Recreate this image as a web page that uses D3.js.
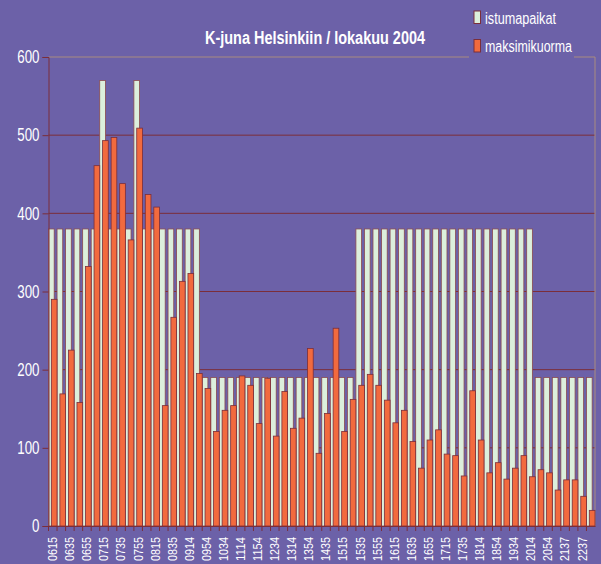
<!DOCTYPE html>
<html>
<head>
<meta charset="utf-8">
<script src="https://cdn.jsdelivr.net/npm/d3@7"></script>
<style>
  body { margin: 0; background: #6c61a8; }
  text { font-family: "Liberation Sans", Arial, sans-serif; fill: #fff; }
</style>
</head>
<body>
<script>
// departure times (every other one is shown on the axis)
const departures = [
  "0615","0625","0635","0645","0655","0705","0715","0725","0735","0745",
  "0755","0805","0815","0825","0835","0854","0914","0934","0954","1014",
  "1034","1054","1114","1134","1154","1214","1234","1254","1314","1334",
  "1354","1414","1435","1454","1515","1525","1535","1545","1555","1605",
  "1615","1625","1635","1645","1655","1705","1715","1725","1735","1754",
  "1814","1834","1854","1914","1934","1954","2014","2034","2054","2114",
  "2137","2207","2237","2307"
];

// istumapaikat (seats)
const seats = [
  380,380,380,380,380,380,570,380,380,380,
  570,380,380,380,380,380,380,380,190,190,
  190,190,190,190,190,190,190,190,190,190,
  190,190,190,190,190,190,380,380,380,380,
  380,380,380,380,380,380,380,380,380,380,
  380,380,380,380,380,380,380,190,190,190,
  190,190,190,190
];

// maksimikuorma (max load)
const maxLoad = [
  290,169,225,158,332,461,493,497,438,366,
  509,424,408,154,267,313,323,195,176,121,
  148,154,192,180,131,189,115,172,125,138,
  227,93,144,253,121,162,180,194,180,161,
  132,148,108,74,110,123,92,90,64,173,
  110,68,81,60,74,90,63,72,68,46,
  59,59,38,20
];

const yTicks = [0, 100, 200, 300, 400, 500, 600];

const config = { width: 601, height: 564 };
const plot = { left: 48.5, right: 595, top: 57, bottom: 526 };
const maroon = "#7b2e3a";

const svg = d3.select("body")
  .append("svg")
  .attr("width", config.width)
  .attr("height", config.height);

svg.append("rect")
  .attr("width", config.width)
  .attr("height", config.height)
  .attr("fill", "#6c61a8");

const x = d3.scaleBand()
  .domain(departures)
  .range([plot.left, plot.right])
  .padding(0);

const y = d3.scaleLinear()
  .domain([0, 600])
  .range([plot.bottom, plot.top]);

const bw = x.bandwidth();

// gridlines
svg.append("g")
  .selectAll("line")
  .data(yTicks.filter(d => d > 0 && d < 600))
  .enter()
  .append("line")
  .attr("x1", plot.left)
  .attr("x2", plot.right)
  .attr("y1", d => y(d))
  .attr("y2", d => y(d))
  .attr("stroke", maroon)
  .attr("stroke-width", 1);

// plot border top/right (tan)
svg.append("path")
  .attr("d", `M${plot.left},${y(600)}H${plot.right}V${plot.bottom}`)
  .attr("fill", "none")
  .attr("stroke", "#a88c80")
  .attr("stroke-width", 1);

// seats bars
svg.append("g")
  .selectAll("rect")
  .data(departures)
  .enter()
  .append("rect")
  .attr("x", d => x(d))
  .attr("y", (d, i) => y(seats[i]))
  .attr("width", bw * 2 / 3)
  .attr("height", (d, i) => y(0) - y(seats[i]))
  .attr("fill", "#dcefdc")
  .attr("stroke", "#8a4a50")
  .attr("stroke-width", 0.8);

// max load bars
svg.append("g")
  .selectAll("rect")
  .data(departures)
  .enter()
  .append("rect")
  .attr("x", d => x(d) + bw / 3)
  .attr("y", (d, i) => y(maxLoad[i]))
  .attr("width", bw * 2 / 3)
  .attr("height", (d, i) => y(0) - y(maxLoad[i]))
  .attr("fill", "#f26a3e")
  .attr("stroke", maroon)
  .attr("stroke-width", 0.8);

// y axis
const yAxis = svg.append("g")
  .attr("transform", `translate(${plot.left},0)`)
  .call(d3.axisLeft(y).tickValues(yTicks).tickSize(6).tickFormat(d => d));
yAxis.select(".domain").attr("stroke", maroon);
yAxis.selectAll(".tick line").attr("stroke", maroon);
yAxis.selectAll(".tick text")
  .attr("x", -9)
  .attr("font-size", 18)
  .attr("fill", "#fff")
  .attr("textLength", d => String(d).length * 7.4)
  .attr("lengthAdjust", "spacingAndGlyphs");

// x axis
const xAxis = svg.append("g")
  .attr("transform", `translate(0,${plot.bottom})`)
  .call(d3.axisBottom(x).tickSize(0).tickFormat(""));
xAxis.select(".domain").attr("stroke", maroon);

svg.append("g")
  .selectAll("line")
  .data(departures)
  .enter()
  .append("line")
  .attr("x1", d => x(d))
  .attr("x2", d => x(d))
  .attr("y1", plot.bottom)
  .attr("y2", plot.bottom + 5)
  .attr("stroke", maroon);

svg.append("g")
  .selectAll("text")
  .data(departures.filter((d, i) => i % 2 === 0))
  .enter()
  .append("text")
  .attr("transform", d => `translate(${x(d) + bw / 2},${plot.bottom + 11}) rotate(-90)`)
  .attr("text-anchor", "end")
  .attr("dy", "0.35em")
  .attr("font-size", 12.5)
  .attr("textLength", 24)
  .attr("lengthAdjust", "spacingAndGlyphs")
  .text(d => d);

// title
svg.append("text")
  .text("K-juna Helsinkiin / lokakuu 2004")
  .attr("x", 205)
  .attr("y", 44)
  .attr("font-size", 18)
  .attr("font-weight", "bold")
  .attr("textLength", 220)
  .attr("lengthAdjust", "spacingAndGlyphs");

// legend
const legendItems = [
  { name: "istumapaikat", color: "#dcefdc", len: 71 },
  { name: "maksimikuorma", color: "#f26a3e", len: 87 }
];
const legend = svg.append("g");
legend.append("rect")
  .attr("x", 469)
  .attr("y", 0)
  .attr("width", 105)
  .attr("height", 62)
  .attr("fill", "#6c61a8");
legendItems.forEach((d, i) => {
  legend.append("rect")
    .attr("x", 474)
    .attr("y", 11 + i * 28.5)
    .attr("width", 6.5)
    .attr("height", 12.5)
    .attr("fill", d.color)
    .attr("stroke", maroon)
    .attr("stroke-width", 1);
  legend.append("text")
    .text(d.name)
    .attr("x", 485)
    .attr("y", 23.5 + i * 28.5)
    .attr("font-size", 16)
    .attr("textLength", d.len)
    .attr("lengthAdjust", "spacingAndGlyphs");
});
</script>
</body>
</html>
